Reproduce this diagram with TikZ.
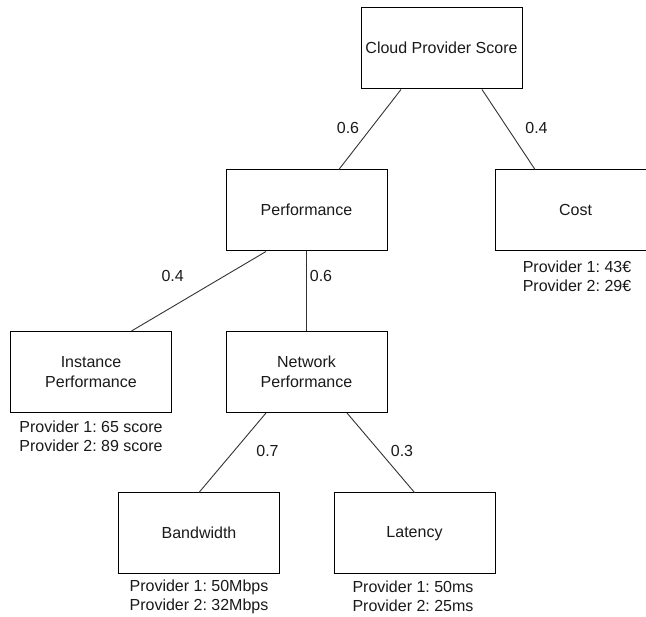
\documentclass[tikz,border=0pt]{standalone}
\usepackage{fontspec}
\setmainfont{Liberation Sans}
\usetikzlibrary{calc}
\frenchspacing
\definecolor{ink}{HTML}{1A1A1A}
\definecolor{wire}{HTML}{333333}
\tikzset{
  box/.style={draw=black, line width=1pt, fill=white, minimum width=161pt,
              minimum height=81pt, inner sep=0pt, align=center, text=ink,
              font=\fontsize{16}{20}\selectfont},
  note/.style={align=center, text=ink, inner sep=0pt,
               font=\fontsize{16}{19}\selectfont},
  weight/.style={text=ink, inner sep=0pt, font=\fontsize{16}{19}\selectfont},
  link/.style={draw=wire, line width=0.9pt}
}
% points along the lower and upper sides of a box
\newcommand{\lowside}[2]{($(#1.south west)!#2!(#1.south east)$)}
\newcommand{\topside}[2]{($(#1.north west)!#2!(#1.north east)$)}
\begin{document}
\begin{tikzpicture}[x=1pt,y=-1pt]
  \useasboundingbox[fill=white] (0,0) rectangle (646,617);

  % boxes
  \node[box] (cps)  at (441.5,48.5)  {\raisebox{1.5pt}{Cloud Provider Score}};
  \node[box] (perf) at (306.5,210.5) {\raisebox{1.5pt}{Performance}};
  \node[box] (cost) at (575.5,210.5) {\raisebox{1.5pt}{Cost}};
  \node[box] (inst) at (91,372)      {Instance\\Performance};
  \node[box] (net)  at (306.5,372)   {Network\\Performance};
  \node[box] (bw)   at (199,533.5)   {\raisebox{1.5pt}{Bandwidth}};
  \node[box] (lat)  at (414.5,533.5) {\raisebox{1.5pt}{Latency}};

  % connectors
  \draw[link] \lowside{cps}{0.25}  -- \topside{perf}{0.7};
  \draw[link] \lowside{cps}{0.75}  -- \topside{cost}{0.25};
  \draw[link] \lowside{perf}{0.25} -- \topside{inst}{0.75};
  \draw[link] (perf.south)         -- (net.north);
  \draw[link] \lowside{net}{0.25}  -- (bw.north);
  \draw[link] \lowside{net}{0.75}  -- (lat.north);

  % weights
  \node[weight] (w1) at (348,127.5)   {0.6};
  \node[weight] (w2) at (536.5,127.5) {0.4};
  \node[weight] (w3) at (172.7,275.5) {0.4};
  \node[weight] (w4) at (321,275.5)   {0.6};
  \node[weight] (w5) at (267.5,450.5) {0.7};
  \node[weight] (w6) at (402,450.5)   {0.3};

  % provider values
  \node[note] (costv) at (577,276.5) {Provider 1: 43€\\Provider 2: 29€};
  \node[note] (instv) at (91,436)    {Provider 1: 65 score\\Provider 2: 89 score};
  \node[note] (bwv)   at (199,596.5) {Provider 1: 50Mbps\\Provider 2: 32Mbps};
  \node[note] (latv)  at (413,596.5) {Provider 1: 50ms\\Provider 2: 25ms};
\end{tikzpicture}
\end{document}
